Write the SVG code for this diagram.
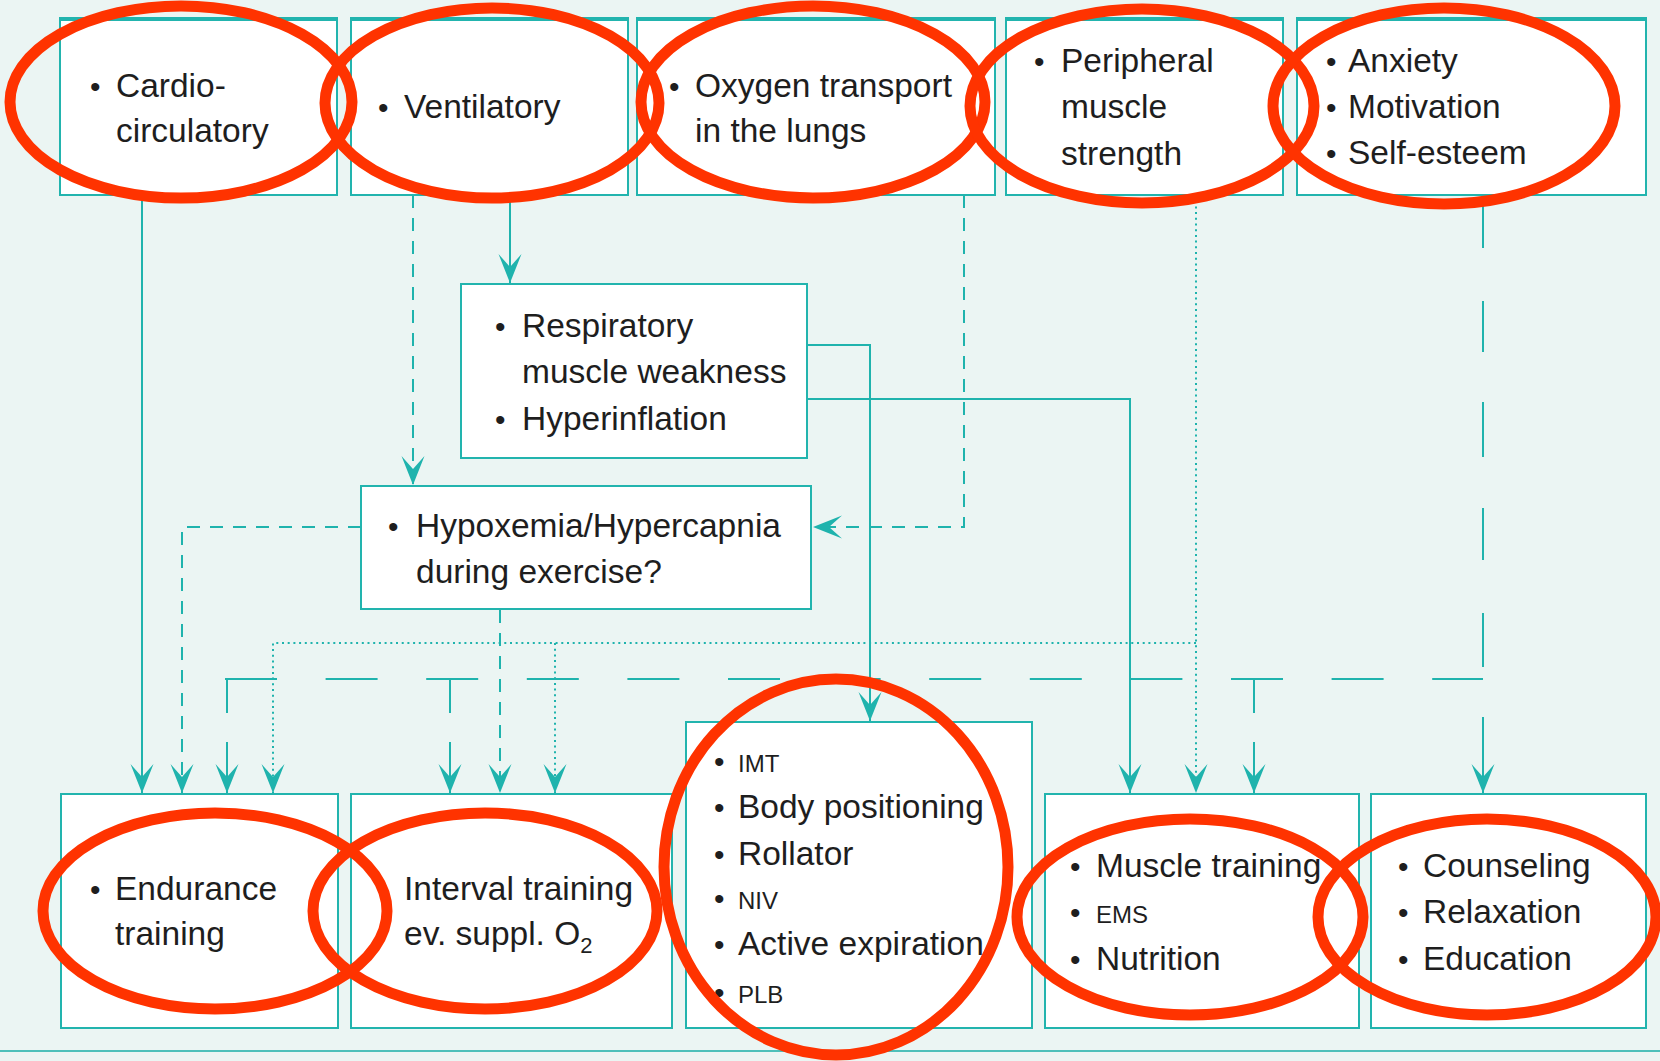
<svg xmlns="http://www.w3.org/2000/svg" width="1660" height="1061" viewBox="0 0 1660 1061">
  <style>
    .box { fill: #ffffff; stroke: #22b4ae; stroke-width: 2; }
    .cap { stroke: #22b4ae; stroke-width: 4; }
    .t { font-family: "Liberation Sans", Arial, sans-serif; font-size: 33.5px; fill: #1e1e1e; }
    .s { font-family: "Liberation Sans", Arial, sans-serif; font-size: 24px; fill: #1e1e1e; }
    .b { font-family: "Liberation Sans", Arial, sans-serif; font-size: 30px; fill: #1e1e1e; }
    .ln { fill: none; stroke: #1fb3ad; stroke-width: 2; }
    .solid { marker-end: url(#arrow); }
    .dash { stroke-dasharray: 13 10; }
    .dot { stroke-dasharray: 2 3.7; }
    .long { stroke-dasharray: 52 48.6; }
    .mark { fill: none; stroke: #ff3300; stroke-width: 11; }
  </style>
  <defs>
    <marker id="arrow" markerUnits="userSpaceOnUse" viewBox="-30 -13 31 26" markerWidth="31" markerHeight="26" refX="0" refY="0" orient="auto">
      <path d="M0,0 L-29,-11.5 L-16,0 L-29,11.5 Z" fill="#1fb3ad"/>
    </marker>
  </defs>

  <!-- background and base rule -->
  <rect x="0" y="0" width="1660" height="1061" fill="#ebf5f3"/>
  <line x1="0" y1="1051" x2="1660" y2="1051" stroke="#4dc0ba" stroke-width="2"/>

  <!-- connectors -->
  <g id="connectors">
    <path class="ln solid" d="M142 195 V793"/>
    <path class="ln solid" d="M510 195 V283"/>
    <path class="ln solid" d="M807 345 H870 V721"/>
    <path class="ln solid" d="M807 399 H1130 V793"/>
    <path class="ln dash" d="M413 195 V485" marker-end="url(#arrow)"/>
    <path class="ln dash" d="M964 195 V527 H813" marker-end="url(#arrow)"/>
    <path class="ln dash" d="M361 527 H182 V793" marker-end="url(#arrow)"/>
    <path class="ln dash" d="M500 610 V793" marker-end="url(#arrow)"/>
    <path class="ln dot" d="M1196 195 V793" marker-end="url(#arrow)"/>
    <path class="ln dot" d="M1196 643 H273 V793" marker-end="url(#arrow)"/>
    <path class="ln dot" d="M555 643 V793" marker-end="url(#arrow)"/>
    <path class="ln long" d="M225 679 H1483"/>
    <path class="ln" d="M1483 195 V248 M1483 301 V352 M1483 402 V457 M1483 508 V560 M1483 613 V667 M1483 717 V793" marker-end="url(#arrow)"/>
    <path class="ln" d="M227 679 V713 M227 742 V793" marker-end="url(#arrow)"/>
    <path class="ln" d="M450 679 V713 M450 742 V793" marker-end="url(#arrow)"/>
    <path class="ln" d="M1254 679 V713 M1254 742 V793" marker-end="url(#arrow)"/>
  </g>

  <!-- top row: limiting factors -->
  <g id="cardio">
    <rect class="box" x="60" y="19" width="277" height="176"/>
    <line class="cap" x1="59" y1="19" x2="338" y2="19"/>
    <text class="b" x="90" y="97">•</text>
    <text class="t" x="116" y="97">Cardio-</text>
    <text class="t" x="116" y="142">circulatory</text>
  </g>
  <g id="ventilatory">
    <rect class="box" x="351" y="19" width="277" height="176"/>
    <line class="cap" x1="350" y1="19" x2="629" y2="19"/>
    <text class="b" x="378" y="118">•</text>
    <text class="t" x="404" y="118">Ventilatory</text>
  </g>
  <g id="oxygen">
    <rect class="box" x="637" y="19" width="358" height="176"/>
    <line class="cap" x1="636" y1="19" x2="996" y2="19"/>
    <text class="b" x="669" y="97">•</text>
    <text class="t" x="695" y="97">Oxygen transport</text>
    <text class="t" x="695" y="142">in the lungs</text>
  </g>
  <g id="peripheral">
    <rect class="box" x="1006" y="19" width="277" height="176"/>
    <line class="cap" x1="1005" y1="19" x2="1284" y2="19"/>
    <text class="b" x="1034" y="72">•</text>
    <text class="t" x="1061" y="72">Peripheral</text>
    <text class="t" x="1061" y="118">muscle</text>
    <text class="t" x="1061" y="165">strength</text>
  </g>
  <g id="psyche">
    <rect class="box" x="1297" y="19" width="349" height="176"/>
    <line class="cap" x1="1296" y1="19" x2="1647" y2="19"/>
    <text class="b" x="1326" y="72">•</text>
    <text class="t" x="1348" y="72">Anxiety</text>
    <text class="b" x="1326" y="118">•</text>
    <text class="t" x="1348" y="118">Motivation</text>
    <text class="b" x="1326" y="164">•</text>
    <text class="t" x="1348" y="164">Self-esteem</text>
  </g>

  <!-- middle row -->
  <g id="respiratory">
    <rect class="box" x="461" y="284" width="346" height="174"/>
    <text class="b" x="495" y="337">•</text>
    <text class="t" x="522" y="337">Respiratory</text>
    <text class="t" x="522" y="383">muscle weakness</text>
    <text class="b" x="495" y="430">•</text>
    <text class="t" x="522" y="430">Hyperinflation</text>
  </g>
  <g id="hypoxemia">
    <rect class="box" x="361" y="486" width="450" height="123"/>
    <text class="b" x="388" y="537">•</text>
    <text class="t" x="416" y="537">Hypoxemia/Hypercapnia</text>
    <text class="t" x="416" y="583">during exercise?</text>
  </g>

  <!-- bottom row: interventions -->
  <g id="endurance">
    <rect class="box" x="61" y="794" width="277" height="234"/>
    <text class="b" x="90" y="900">•</text>
    <text class="t" x="115" y="900">Endurance</text>
    <text class="t" x="115" y="945">training</text>
  </g>
  <g id="interval">
    <rect class="box" x="351" y="794" width="321" height="234"/>
    <text class="b" x="378" y="900">•</text>
    <text class="t" x="404" y="900">Interval training</text>
    <text class="t" x="404" y="945">ev. suppl. O<tspan font-size="22" dy="8">2</tspan></text>
  </g>
  <g id="breathing">
    <rect class="box" x="686" y="722" width="346" height="306"/>
    <text class="b" x="714" y="772">•</text>
    <text class="s" x="738" y="772">IMT</text>
    <text class="b" x="714" y="818">•</text>
    <text class="t" x="738" y="818">Body positioning</text>
    <text class="b" x="714" y="865">•</text>
    <text class="t" x="738" y="865">Rollator</text>
    <text class="b" x="714" y="909">•</text>
    <text class="s" x="738" y="909">NIV</text>
    <text class="b" x="714" y="955">•</text>
    <text class="t" x="738" y="955">Active expiration</text>
    <text class="b" x="714" y="1003">•</text>
    <text class="s" x="738" y="1003">PLB</text>
  </g>
  <g id="muscle">
    <rect class="box" x="1045" y="794" width="314" height="234"/>
    <text class="b" x="1070" y="877">•</text>
    <text class="t" x="1096" y="877">Muscle training</text>
    <text class="b" x="1070" y="923">•</text>
    <text class="s" x="1096" y="923">EMS</text>
    <text class="b" x="1070" y="970">•</text>
    <text class="t" x="1096" y="970">Nutrition</text>
  </g>
  <g id="counseling">
    <rect class="box" x="1371" y="794" width="275" height="234"/>
    <text class="b" x="1398" y="877">•</text>
    <text class="t" x="1423" y="877">Counseling</text>
    <text class="b" x="1398" y="923">•</text>
    <text class="t" x="1423" y="923">Relaxation</text>
    <text class="b" x="1398" y="970">•</text>
    <text class="t" x="1423" y="970">Education</text>
  </g>

  <!-- red highlight rings -->
  <g id="highlights">
    <ellipse class="mark" cx="181" cy="102" rx="171" ry="96"/>
    <ellipse class="mark" cx="492" cy="103" rx="167" ry="95"/>
    <ellipse class="mark" cx="813" cy="102" rx="172" ry="96"/>
    <ellipse class="mark" cx="1142" cy="106" rx="172" ry="97"/>
    <ellipse class="mark" cx="1444" cy="106" rx="171" ry="98"/>
    <ellipse class="mark" cx="215" cy="911" rx="172" ry="98"/>
    <ellipse class="mark" cx="485" cy="911" rx="172" ry="98"/>
    <ellipse class="mark" cx="836" cy="867" rx="172" ry="188"/>
    <ellipse class="mark" cx="1190" cy="917" rx="173" ry="98"/>
    <ellipse class="mark" cx="1487" cy="917" rx="169" ry="98"/>
  </g>
</svg>
